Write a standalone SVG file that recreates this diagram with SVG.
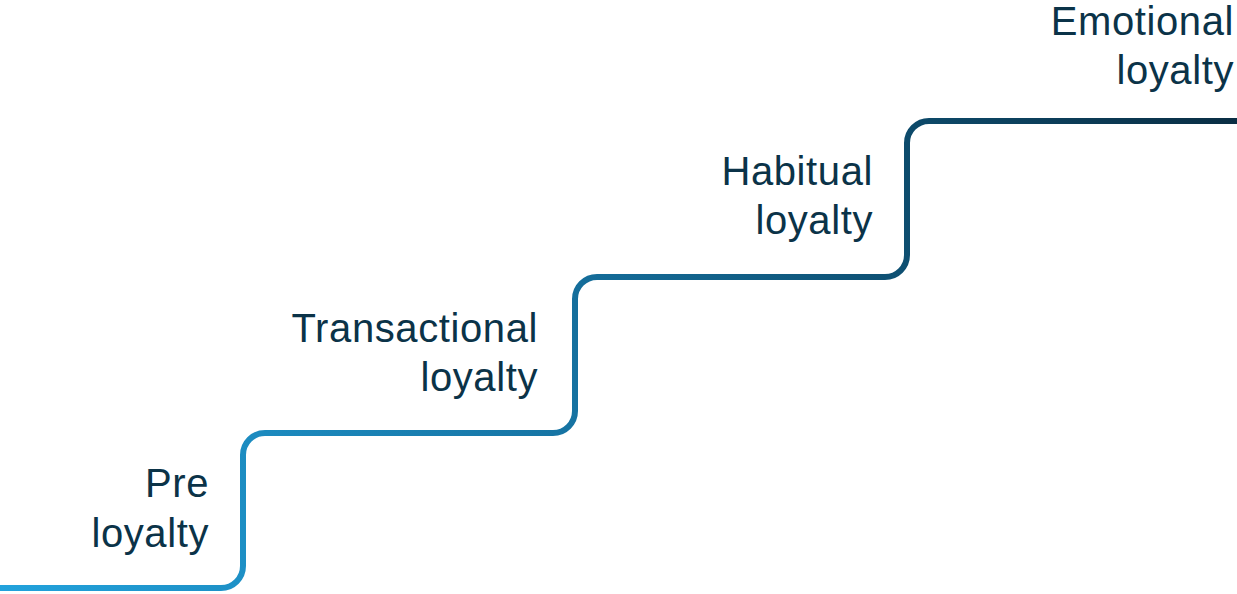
<svg xmlns="http://www.w3.org/2000/svg" width="1237" height="594" viewBox="0 0 1237 594">
  <defs>
    <linearGradient id="grad" gradientUnits="userSpaceOnUse" x1="0" y1="588" x2="1237" y2="121">
      <stop offset="0" stop-color="#22a2dc"/>
      <stop offset="0.45" stop-color="#1673a2"/>
      <stop offset="0.75" stop-color="#0d4c6d"/>
      <stop offset="1" stop-color="#0a2e44"/>
    </linearGradient>
  </defs>
  <style>
    .lbl { font-family: "Liberation Sans", Arial, sans-serif; font-size: 40px; letter-spacing: 0.6px; fill: #0b3348; text-anchor: end; }
    .stair { fill: none; stroke: url(#grad); stroke-width: 6; stroke-linecap: butt; stroke-linejoin: round; }
  </style>
  <g id="connectors">
    <path class="stair" d="M0,588 H221 A22,22 0 0 0 243,566 V455 A22,22 0 0 1 265,433 H553 A22,22 0 0 0 575,411 V299 A22,22 0 0 1 597,277 H885 A22,22 0 0 0 907,255 V143 A22,22 0 0 1 929,121 H1237"/>
  </g>
  <g id="pre-loyalty">
    <text class="lbl" x="209" y="497">Pre</text>
    <text class="lbl" x="209" y="547">loyalty</text>
  </g>
  <g id="transactional-loyalty">
    <text class="lbl" x="538" y="342">Transactional</text>
    <text class="lbl" x="538" y="391">loyalty</text>
  </g>
  <g id="habitual-loyalty">
    <text class="lbl" x="873" y="185">Habitual</text>
    <text class="lbl" x="873" y="234">loyalty</text>
  </g>
  <g id="emotional-loyalty">
    <text class="lbl" x="1234" y="35">Emotional</text>
    <text class="lbl" x="1234" y="84">loyalty</text>
  </g>
</svg>
